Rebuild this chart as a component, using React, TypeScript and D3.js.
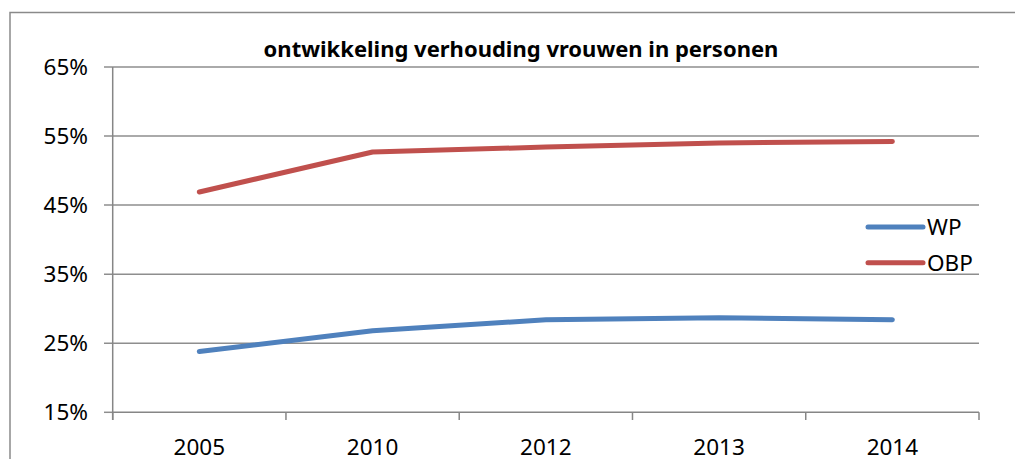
import React from 'react';
import * as d3 from 'd3';

const years = ['2005', '2010', '2012', '2013', '2014'];
const wp = [23.8, 26.8, 28.4, 28.7, 28.4];
const obp = [46.9, 52.7, 53.4, 54.0, 54.2];
const yTicks = [15, 25, 35, 45, 55, 65];

const series = [
  { name: 'WP', values: wp, color: '#4F81BD' },
  { name: 'OBP', values: obp, color: '#C0504D' },
];

const W = 1015;
const H = 459;
const left = 112.7;
const right = 979;
const top = 67;
const bottom = 412.3;
const font = '"Noto Sans", "Open Sans", sans-serif';

const App = () => {
  const x = d3.scaleBand<string>().domain(years).range([left, right]);
  const y = d3.scaleLinear().domain([15, 65]).range([bottom, top]);
  const line = d3.line<number>()
    .x((d, i) => (x(years[i]) as number) + x.bandwidth() / 2)
    .y(d => y(d));

  const bounds = [...years.map(c => x(c) as number), right];

  return (
    <svg width={W} height={H} style={{ position: 'absolute', left: 0, top: 0 }}>
      <rect x={0} y={0} width={W} height={H} fill="#fff" />
      <rect x={10} y={12.5} width={W + 20} height={H + 20} fill="none" stroke="#8a8a8a" strokeWidth={1.5} />

      <text x={521} y={57} textAnchor="middle" fontFamily={font} fontWeight="bold" fontSize={22} fill="#000">
        ontwikkeling verhouding vrouwen in personen
      </text>

      {yTicks.map(t => (
        <g key={t}>
          <line x1={104} x2={t === 15 ? left : right} y1={y(t)} y2={y(t)} stroke="#8e8e8e" strokeWidth={1.5} />
          <text x={88} y={y(t)} dy="0.35em" textAnchor="end" fontFamily={font} fontSize={22.5} fill="#000">
            {t}%
          </text>
        </g>
      ))}

      <line x1={left} x2={right} y1={bottom} y2={bottom} stroke="#868686" strokeWidth={1.5} />
      <line x1={left} x2={left} y1={top} y2={420} stroke="#868686" strokeWidth={1.5} />
      {bounds.map((b, i) => (
        <line key={i} x1={b} x2={b} y1={bottom} y2={420} stroke="#868686" strokeWidth={1.5} />
      ))}
      {years.map(c => (
        <text key={c} x={(x(c) as number) + x.bandwidth() / 2} y={455} textAnchor="middle"
          fontFamily={font} fontSize={22.5} fill="#000">
          {c}
        </text>
      ))}

      {series.map(s => (
        <path key={s.name} d={line(s.values) || ''} fill="none" stroke={s.color} strokeWidth={5}
          strokeLinecap="round" strokeLinejoin="round" />
      ))}

      {series.map((s, i) => (
        <g key={s.name} transform={`translate(0, ${227 + i * 35.7})`}>
          <line x1={868} x2={923} y1={0} y2={0} stroke={s.color} strokeWidth={5} strokeLinecap="round" />
          <text x={927} y={0} dy="0.36em" fontFamily={font} fontSize={22.5} fill="#000">{s.name}</text>
        </g>
      ))}
    </svg>
  );
};

export default App;
